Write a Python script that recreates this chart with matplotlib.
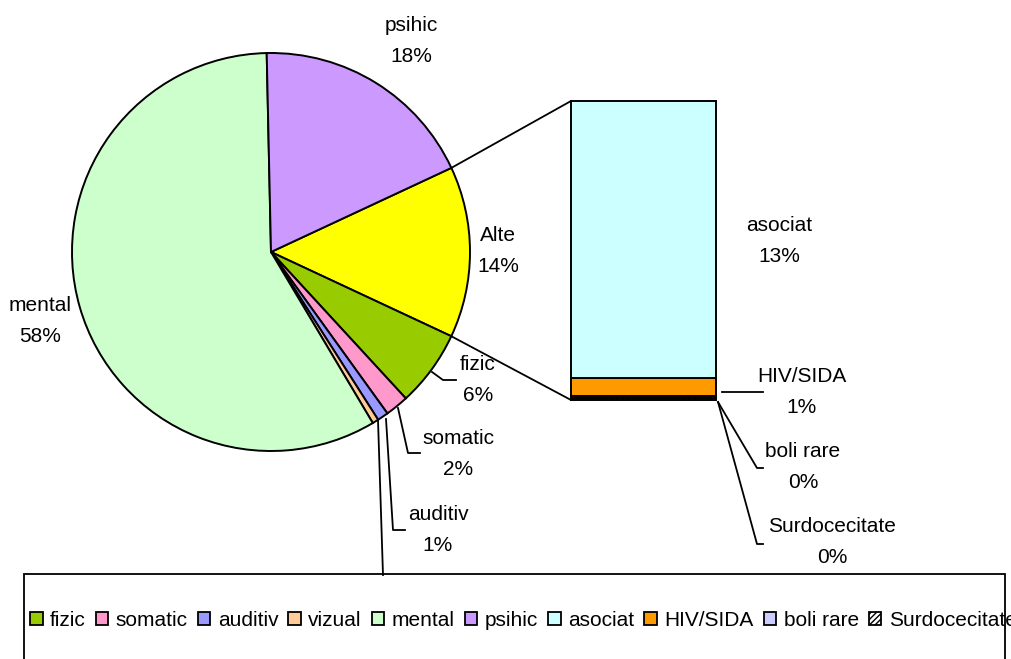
import numpy as np
import matplotlib
matplotlib.use('Agg')
import matplotlib.pyplot as plt
from matplotlib.patches import Patch, Rectangle, ConnectionPatch
from matplotlib.lines import Line2D

plt.rcParams['font.family'] = ['Liberation Sans', 'DejaVu Sans']

# pie part (Alte = sum of the bar part)
pie_names = ['fizic', 'somatic', 'auditiv', 'vizual', 'mental', 'psihic']
pie_values = [6.2, 1.9, 0.9, 0.5, 58.2, 18.4]
pie_colors = ['#99CC00', '#FF99CC', '#9999FF', '#FFCC99', '#CCFFCC', '#CC99FF']

# bar part (top to bottom)
bar_names = ['asociat', 'HIV/SIDA', 'boli rare', 'Surdocecitate']
bar_values = [12.9, 0.8, 0.1, 0.1]
bar_colors = ['#CCFFFF', '#FF9900', '#CCCCFF', 'white']
alte_color = '#FFFF00'

W, H = 1011, 659
FS = 15


def px(x, y):
    # pixel position (from top left) -> figure fraction
    return x / W, 1 - y / H


fig = plt.figure(figsize=(W / 100, H / 100), dpi=100)

# pie
ax_pie = fig.add_axes([72 / W, (H - 451) / H, 398 / W, 398 / H])
alte = sum(bar_values)
total = alte + sum(pie_values)
wedges, _ = ax_pie.pie([alte] + pie_values, colors=[alte_color] + pie_colors,
                       startangle=25, counterclock=False,
                       wedgeprops=dict(edgecolor='black', linewidth=1.4, clip_on=False))
ax_pie.set_xlim(-1, 1)
ax_pie.set_ylim(-1, 1)

# stacked bar
ax_bar = fig.add_axes([571 / W, (H - 400) / H, 145 / W, 299 / H])
bottom = 0
for name, v, c in zip(bar_names[::-1], bar_values[::-1], bar_colors[::-1]):
    hatch = '//////' if name == 'Surdocecitate' else None
    ax_bar.bar(0, v, bottom=bottom, width=1, color=c, edgecolor='black',
               linewidth=1.4, hatch=hatch, clip_on=False)
    bottom += v
ax_bar.set_xlim(-0.5, 0.5)
ax_bar.set_ylim(0, alte)
ax_bar.axis('off')

# connector lines between Alte slice and bar
w0 = wedges[0]
for ang, yb in [(w0.theta2, alte), (w0.theta1, 0)]:
    a = np.deg2rad(ang)
    con = ConnectionPatch(xyA=(np.cos(a), np.sin(a)), coordsA=ax_pie.transData,
                          xyB=(-0.5, yb), coordsB=ax_bar.transData,
                          color='black', linewidth=1.3)
    fig.add_artist(con)

# data labels
pct = lambda v: f'{v / total * 100:.0f}%'
label_pos = {'psihic': (411, 41), 'mental': (40, 321), 'fizic': (478, 380),
             'somatic': (458, 454), 'auditiv': (438, 530),
             'asociat': (779, 241), 'HIV/SIDA': (802, 392),
             'boli rare': (803, 467), 'Surdocecitate': (832, 542)}
for name, v in zip(pie_names + bar_names, pie_values + bar_values):
    if name in label_pos:
        x, y = px(*label_pos[name])
        fig.text(x, y, f'{name}\n{pct(v)}', ha='center', va='center',
                 fontsize=FS, linespacing=1.85)
x, y = px(498, 251)
fig.text(x, y, f'Alte\n{pct(alte)}', ha='center', va='center', fontsize=FS, linespacing=1.85)

# leader lines
leaders = [
    [(432, 372), (443, 380), (456, 380)],
    [(398, 408), (408, 453), (420, 453)],
    [(386, 419), (393, 530), (405, 530)],
    [(378, 420), (383, 575)],
    [(722, 392), (763, 392)],
    [(718, 402), (757, 468), (763, 468)],
    [(718, 402), (757, 544), (763, 544)],
]
for pts in leaders:
    xs, ys = zip(*[px(*p) for p in pts])
    fig.add_artist(Line2D(xs, ys, color='black', linewidth=1.3))

# legend box and entries
x0, y0 = px(24, 574)
x1, y1 = px(1005, 665)
fig.add_artist(Rectangle((x0, y1), x1 - x0, y0 - y1, transform=fig.transFigure,
                         facecolor='white', edgecolor='black', linewidth=1.3))
handles = [Patch(facecolor=c, edgecolor='black', linewidth=1.3,
                 hatch='//////' if n == 'Surdocecitate' else None)
           for n, c in zip(pie_names + bar_names, pie_colors + bar_colors)]
fig.legend(handles, pie_names + bar_names, loc='center left',
           bbox_to_anchor=px(30, 620), ncol=10, frameon=False, fontsize=FS,
           handlelength=0.6, handleheight=0.6, handletextpad=0.36,
           columnspacing=0.48, borderpad=0, borderaxespad=0)

fig.savefig('out.png', dpi=100)
